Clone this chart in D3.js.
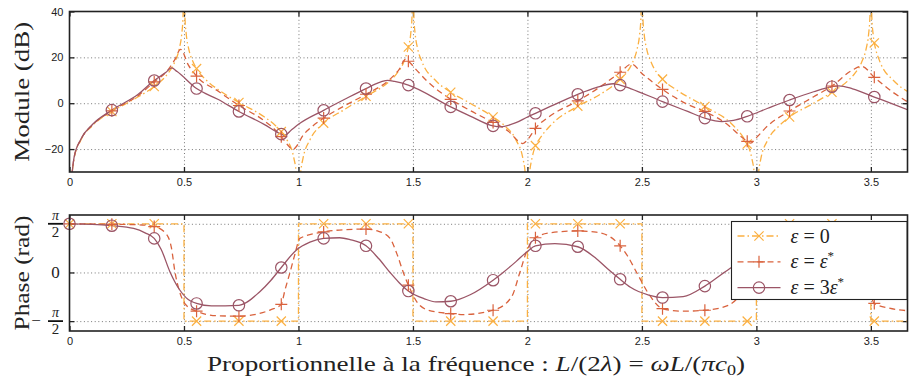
<!DOCTYPE html>
<meta charset="utf-8">
<style>
body { margin: 0; background: #fff; }
svg { display: block; font-family: "Liberation Sans", Arial, sans-serif; }
.grid line { stroke: #777; stroke-dasharray: 1,2.6; }
.grid path, .labels path, .ticks path, .ticks text { display: none; }
.labels text { font-size: 11px; fill: #222; }
.ticks line { stroke: #222; stroke-width: 1.3; }
.frame { fill: none; stroke: #222; stroke-width: 1.6; }
.serif { font-family: "Liberation Serif", "Times New Roman", serif; fill: #222; }
.curve { fill: none; stroke-width: 1.3; }
.mark { fill: none; stroke-width: 1.2; }
</style>
<body>
<script src="https://cdn.jsdelivr.net/npm/d3@7"></script>
<script>

var width = 909,
    height = 379;

// marker abscissae (shared by every series, both panels)
var markX = [0, 0.185, 0.37, 0.555, 0.74, 0.925, 1.11, 1.295, 1.48, 1.665, 1.85,
             2.035, 2.22, 2.405, 2.59, 2.775, 2.96, 3.145, 3.33, 3.515];

var xTicks = [0, 0.5, 1, 1.5, 2, 2.5, 3, 3.5];
var modTicks = [-20, 0, 20, 40];
var phaseTicks = [-1.571, 0, 1.571];

// module (dB) at the markers
var modZero   = [null, -3.6, 7.3, 15.1, 0.3, -12.4, -8.7, 3.0, 24.5, 4.8, -6.0, -18.5, -1.3, 10.4, 10.5, -1.4, -17.8, -6.0, 4.8, 26.3];
var modStar   = [null, -3.3, 9.3, 11.8, -1.0, -14.6, -6.5, 3.9, 18.3, 1.7, -8.4, -11.0, 1.0, 13.5, 6.0, -3.6, -16.6, -3.4, 7.5, 11.3];
var modTriple = [null, -3.0, 9.9, 6.4, -3.6, -13.5, -3.1, 6.4, 7.9, -1.6, -9.9, -4.4, 3.9, 7.9, 0.7, -6.5, -5.7, 1.4, 7.2, 2.7];

// module, extra points read along the curves between markers
var modZeroExtra = [[0.006,-36],[0.02,-24],[0.05,-16],[0.1,-9.8],[0.25,0],[0.3,2.8],[0.43,13],[0.46,18],[0.48,24],[0.49,30],[0.496,38],[0.499,50],
  [0.501,50],[0.504,38],[0.51,30],[0.52,24],[0.54,18],[0.6,9.8],[0.65,5.9],[0.85,-5.9],[0.9,-9.8],[0.95,-16],[0.98,-24],[0.99,-30],[0.996,-38],[0.999,-50],
  [1.001,-50],[1.004,-38],[1.01,-30],[1.02,-24],[1.05,-16],[1.2,-2.8],[1.4,9.8],[1.43,13],[1.46,18],[1.49,30],[1.496,38],[1.499,50],
  [1.501,50],[1.504,38],[1.51,30],[1.52,24],[1.54,18],[1.6,9.8],[1.75,0],[1.9,-9.8],[1.95,-16],[1.98,-24],[1.99,-30],[1.996,-38],[1.999,-50],
  [2.001,-50],[2.004,-38],[2.01,-30],[2.02,-24],[2.05,-16],[2.1,-9.8],[2.3,2.8],[2.43,13],[2.46,18],[2.48,24],[2.49,30],[2.496,38],[2.499,50],
  [2.501,50],[2.504,38],[2.51,30],[2.52,24],[2.54,18],[2.65,5.9],[2.9,-9.8],[2.95,-16],[2.98,-24],[2.99,-30],[2.996,-38],[2.999,-50],
  [3.001,-50],[3.004,-38],[3.01,-30],[3.02,-24],[3.05,-16],[3.1,-9.8],[3.25,0],[3.4,9.8],[3.43,13],[3.46,18],[3.48,24],[3.49,30],[3.496,38],[3.499,50],
  [3.501,50],[3.504,38],[3.51,30],[3.52,24],[3.54,18],[3.6,9.8],[3.666,4.8]];
var modStarExtra = [[0.006,-36],[0.02,-23.8],[0.05,-15.8],[0.1,-9.5],[0.3,3.3],[0.43,14.5],[0.46,19],[0.485,23.5],[0.52,16.5],
  [0.65,5.2],[0.85,-7.6],[0.9,-11.8],[0.96,-19],[0.975,-20.3],[0.99,-19],[1.02,-14],[1.05,-11],
  [1.2,-1.2],[1.4,10.5],[1.44,14.8],[1.468,19.2],[1.52,14],[1.56,9.8],
  [1.75,-3.2],[1.92,-12.5],[1.96,-16.5],[1.98,-17.6],[2.0,-16],[2.1,-5.5],
  [2.33,8],[2.455,17.1],[2.5,13],[2.7,-0.5],[2.88,-9.8],[2.93,-14.3],[2.975,-17.4],[3.0,-15],[3.05,-9.8],
  [3.25,2.8],[3.42,14.5],[3.46,16.1],[3.6,4.5],[3.666,0.3]];
var modTripleExtra = [[0.006,-36],[0.02,-23.6],[0.05,-15.6],[0.1,-9.3],[0.3,3.9],[0.42,13.4],[0.446,15.4],[0.47,13.8],[0.65,1.6],
  [0.85,-9.2],[0.94,-14],[0.97,-11.6],[1.0,-9.2],[1.2,1.6],[1.36,9.3],[1.39,10],[1.42,9.5],[1.75,-5.6],[1.88,-10.3],[1.95,-8.5],
  [2.0,-6],[2.1,-1.4],[2.3,6.8],[2.375,8.5],[2.45,6.4],[2.7,-3.6],[2.85,-8],[2.9,-7.5],[3.05,-2.2],[3.25,5.0],[3.36,7.6],[3.42,6.3],
  [3.6,-0.5],[3.666,-3.1]];

// phase (rad) at the markers
var phaseZero   = [1.571, 1.571, 1.571, -1.571, -1.571, -1.571, 1.571, 1.571, 1.571, -1.571, -1.571, 1.571, 1.571, 1.571, -1.571, -1.571, -1.571, 1.571, 1.571, -1.571];
var phaseStar   = [1.571, 1.555, 1.48, -1.25, -1.41, -1.03, 1.31, 1.40, -0.41, -1.33, -1.22, 1.12, 1.34, 0.86, -1.17, -1.22, -0.3, 1.25, 1.2, -1.0];
var phaseTriple = [1.571, 1.51, 1.10, -1.00, -1.06, 0.16, 1.10, 0.86, -0.60, -0.93, -0.25, 0.86, 0.83, -0.22, -0.81, -0.44, 0.45, 0.80, 0.25, -0.55];

// phase for eps = 0 jumps at each half integer
var phaseZeroStepX = [0, 0.5, 1, 1.5, 2, 2.5, 3, 3.5, 3.666];
var phaseZeroStepY = [1.571, -1.571, 1.571, -1.571, 1.571, -1.571, 1.571, -1.571, -1.571];

var phaseStarExtra = [[0.3,1.54],[0.424,1.23],[0.445,0.8],[0.461,0.0],[0.48,-0.6],[0.51,-1.06],[0.65,-1.40],[0.8,-1.37],[0.88,-1.2],
  [0.94,-0.6],[0.963,0.0],[0.985,0.6],[1.006,1.10],[1.2,1.38],[1.35,1.33],[1.4,1.10],[1.43,0.6],[1.458,0.0],[1.52,-0.98],[1.56,-1.2],
  [1.72,-1.36],[1.93,-0.8],[1.967,0.0],[2.0,0.75],[2.1,1.28],[2.3,1.3],[2.38,1.05],[2.44,0.5],[2.477,0.0],[2.535,-0.75],[2.68,-1.25],
  [2.88,-1.05],[2.93,-0.7],[2.975,0.0],[3.02,0.85],[3.25,1.3],[3.4,0.95],[3.44,0.5],[3.475,0.0],[3.58,-1.15],[3.666,-1.24]];
var phaseTripleExtra = [[0.1,1.555],[0.28,1.42],[0.33,1.28],[0.4,0.75],[0.44,0.0],[0.48,-0.55],[0.51,-0.82],[0.62,-1.08],[0.83,-0.63],
  [0.88,-0.25],[0.99,0.72],[1.05,0.98],[1.18,1.12],[1.225,1.06],[1.35,0.45],[1.40,0.0],[1.44,-0.33],[1.55,-0.85],[1.6,-0.95],[1.75,-0.72],
  [1.894,0.0],[1.95,0.35],[2.0,0.68],[2.12,0.93],[2.3,0.45],[2.35,0.12],[2.45,-0.48],[2.53,-0.73],[2.68,-0.78],[2.85,-0.05],[2.9,0.2],
  [3.05,0.75],[3.2,0.70],[3.4,-0.05],[3.6,-0.75],[3.666,-0.85]];

var colZero = "#fbb041", colStar = "#d9623d", colTriple = "#9b5566";

var x = d3.scaleLinear().domain([0, 3.66]).range([69.5, 907.5]);
var yMod = d3.scaleLinear().domain([-30, 40]).range([172, 11.5]);
var yPh = d3.scaleLinear().domain([-1.89, 1.855]).range([331, 215]);

var svg = d3.select("body").append("svg")
    .attr("width", width)
    .attr("height", height);

function merge(vals, extra) {
  var pts = markX.map(function(v, i) { return [v, vals[i]]; })
      .filter(function(d) { return d[1] != null; })
      .concat(extra);
  return pts.sort(function(a, b) { return a[0] - b[0]; });
}

function frame(y, gridVals, tickVals, id) {
  var top = y.range()[1], bottom = y.range()[0],
      left = x.range()[0], right = x.range()[1];
  var g = svg.append("g");

  g.append("clipPath").attr("id", id).append("rect")
      .attr("x", left).attr("y", top)
      .attr("width", right - left).attr("height", bottom - top);

  // dotted grid
  g.append("g").attr("class", "grid")
      .attr("transform", "translate(0," + bottom + ")")
      .call(d3.axisBottom(x).tickValues(xTicks.slice(1)).tickSize(-(bottom - top)).tickFormat(""));
  g.append("g").attr("class", "grid")
      .attr("transform", "translate(" + left + ",0)")
      .call(d3.axisLeft(y).tickValues(gridVals).tickSize(-(right - left)).tickFormat(""));

  // little inward ticks on all four sides
  g.append("g").attr("class", "ticks").attr("transform", "translate(0," + bottom + ")")
      .call(d3.axisBottom(x).tickValues(xTicks).tickSize(-5));
  g.append("g").attr("class", "ticks").attr("transform", "translate(0," + top + ")")
      .call(d3.axisTop(x).tickValues(xTicks).tickSize(-5));
  g.append("g").attr("class", "ticks").attr("transform", "translate(" + left + ",0)")
      .call(d3.axisLeft(y).tickValues(tickVals).tickSize(-5));
  g.append("g").attr("class", "ticks").attr("transform", "translate(" + right + ",0)")
      .call(d3.axisRight(y).tickValues(tickVals).tickSize(-5));

  // x tick labels
  g.append("g").attr("class", "labels").attr("transform", "translate(0," + bottom + ")")
      .call(d3.axisBottom(x).tickValues(xTicks).tickSize(0).tickPadding(6).tickFormat(function(d) { return d; }));

  return g;
}

function border(g, y) {
  g.append("rect").attr("class", "frame")
      .attr("x", x.range()[0]).attr("y", y.range()[1])
      .attr("width", x.range()[1] - x.range()[0])
      .attr("height", y.range()[0] - y.range()[1]);
}

function curve(g, y, pts, color, dash, id, kind) {
  g.append("path")
      .datum(pts)
      .attr("class", "curve")
      .attr("clip-path", "url(#" + id + ")")
      .attr("stroke", color)
      .attr("stroke-dasharray", dash)
      .attr("d", d3.line()
          .x(function(d) { return x(d[0]); })
          .y(function(d) { return y(d[1]); })
          .curve(kind || d3.curveMonotoneX));
}

var crossPath = "M-4.6,-4.6L4.6,4.6M-4.6,4.6L4.6,-4.6",
    plusPath = "M-6,0H6M0,-6V6";

function marks(g, y, vals, shape, color) {
  var pts = markX.map(function(v, i) { return [v, vals[i]]; })
      .filter(function(d) { return d[1] != null; });
  var sel = g.selectAll(null).data(pts).enter();
  if (shape == "circle") {
    sel.append("circle").attr("class", "mark").attr("stroke", color)
        .attr("cx", function(d) { return x(d[0]); })
        .attr("cy", function(d) { return y(d[1]); })
        .attr("r", 5.7);
  } else {
    sel.append("path").attr("class", "mark").attr("stroke", color)
        .attr("d", shape == "cross" ? crossPath : plusPath)
        .attr("transform", function(d) { return "translate(" + x(d[0]) + "," + y(d[1]) + ")"; });
  }
}

var dashZero = "7,3,1.5,3", dashStar = "6,4";

// ---- module panel
var gm = frame(yMod, [-20, 0, 20], modTicks, "clipMod");
gm.append("g").attr("class", "labels").attr("transform", "translate(" + x.range()[0] + ",0)")
    .call(d3.axisLeft(yMod).tickValues(modTicks).tickSize(0).tickPadding(6));
curve(gm, yMod, merge(modZero, modZeroExtra), colZero, dashZero, "clipMod");
curve(gm, yMod, merge(modStar, modStarExtra), colStar, dashStar, "clipMod");
curve(gm, yMod, merge(modTriple, modTripleExtra), colTriple, null, "clipMod");
marks(gm, yMod, modZero, "cross", colZero);
marks(gm, yMod, modStar, "plus", colStar);
marks(gm, yMod, modTriple, "circle", colTriple);
border(gm, yMod);

// ---- phase panel
var gp = frame(yPh, phaseTicks, phaseTicks, "clipPh");
curve(gp, yPh, phaseZeroStepX.map(function(v, i) { return [v, phaseZeroStepY[i]]; }), colZero, dashZero, "clipPh", d3.curveStepAfter);
curve(gp, yPh, merge(phaseStar, phaseStarExtra), colStar, dashStar, "clipPh");
curve(gp, yPh, merge(phaseTriple, phaseTripleExtra), colTriple, null, "clipPh");
marks(gp, yPh, phaseZero, "cross", colZero);
marks(gp, yPh, phaseStar, "plus", colStar);
marks(gp, yPh, phaseTriple, "circle", colTriple);
border(gp, yPh);

// phase tick labels: pi/2, 0, -pi/2 as fractions
phaseTicks.forEach(function(t) {
  var yy = yPh(t), cx = 55.5;
  if (t == 0) {
    gp.append("text").attr("class", "serif").attr("x", cx).attr("y", yy + 6)
        .attr("text-anchor", "middle").style("font-size", "17px").text("0");
    return;
  }
  gp.append("line").attr("x1", cx - 7.5).attr("x2", cx + 7.5).attr("y1", yy).attr("y2", yy)
      .attr("stroke", "#111").attr("stroke-width", 1.8);
  gp.append("text").attr("class", "serif").attr("x", cx).attr("y", yy - 4)
      .attr("text-anchor", "middle").style("font-size", "14px").style("font-style", "italic").text("π");
  gp.append("text").attr("class", "serif").attr("x", cx).attr("y", yy + 13)
      .attr("text-anchor", "middle").style("font-size", "15px").text("2");
  if (t < 0) {
    gp.append("text").attr("class", "serif").attr("x", 36).attr("y", yy + 5)
        .attr("text-anchor", "middle").style("font-size", "17px").text("−");
  }
});

// axis titles
svg.append("text").attr("class", "serif")
    .attr("transform", "translate(29," + d3.mean(yMod.range()) + ") rotate(-90)")
    .attr("text-anchor", "middle")
    .attr("textLength", 140).attr("lengthAdjust", "spacingAndGlyphs")
    .style("font-size", "21px")
    .text("Module (dB)");
svg.append("text").attr("class", "serif")
    .attr("transform", "translate(29," + d3.mean(yPh.range()) + ") rotate(-90)")
    .attr("text-anchor", "middle")
    .attr("textLength", 115).attr("lengthAdjust", "spacingAndGlyphs")
    .style("font-size", "21px")
    .text("Phase (rad)");

var xl = svg.append("text").attr("class", "serif")
    .attr("x", 476).attr("y", 371)
    .attr("text-anchor", "middle")
    .attr("textLength", 538).attr("lengthAdjust", "spacingAndGlyphs")
    .style("font-size", "21px");
xl.append("tspan").text("Proportionnelle à la fréquence : ");
xl.append("tspan").style("font-style", "italic").text("L");
xl.append("tspan").text("/(2");
xl.append("tspan").style("font-style", "italic").text("λ");
xl.append("tspan").text(") = ");
xl.append("tspan").style("font-style", "italic").text("ωL");
xl.append("tspan").text("/(");
xl.append("tspan").style("font-style", "italic").text("πc");
xl.append("tspan").attr("dy", 4).style("font-size", "14px").text("0");
xl.append("tspan").attr("dy", -4).text(")");

// legend
var legendItems = [
  {label: ["ε", " = 0", ""], color: colZero, dash: dashZero, shape: "cross"},
  {label: ["ε", " = ", "ε", "*"], color: colStar, dash: dashStar, shape: "plus"},
  {label: ["ε", " = 3", "ε", "*"], color: colTriple, dash: null, shape: "circle"}
];
var lg = svg.append("g").attr("transform", "translate(731.5,221.5)");
lg.append("rect").attr("width", 175.5).attr("height", 78)
    .attr("fill", "#fff").attr("stroke", "#222").attr("stroke-width", 1.1);
legendItems.forEach(function(it, i) {
  var ry = 14.5 + i * 25.8;
  lg.append("line").attr("x1", 6).attr("x2", 49).attr("y1", ry).attr("y2", ry)
      .attr("stroke", it.color).attr("stroke-width", 1.3).attr("stroke-dasharray", it.dash);
  if (it.shape == "circle") {
    lg.append("circle").attr("class", "mark").attr("stroke", it.color)
        .attr("cx", 27.5).attr("cy", ry).attr("r", 5.7);
  } else {
    lg.append("path").attr("class", "mark").attr("stroke", it.color)
        .attr("d", it.shape == "cross" ? crossPath : plusPath)
        .attr("transform", "translate(27.5," + ry + ")");
  }
  var t = lg.append("text").attr("class", "serif").attr("x", 59).attr("y", ry + 6.5)
      .style("font-size", "20px");
  t.append("tspan").style("font-style", "italic").text(it.label[0]);
  t.append("tspan").text(it.label[1]);
  if (it.label[2]) {
    t.append("tspan").style("font-style", "italic").text(it.label[2]);
    t.append("tspan").attr("dy", -8).style("font-size", "13px").text(it.label[3]);
  }
});

</script>
